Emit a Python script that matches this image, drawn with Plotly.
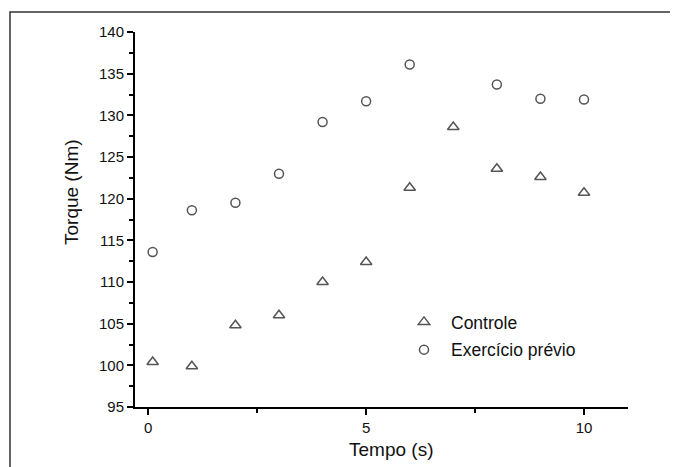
import plotly.graph_objects as go

time_ctrl = [0.1, 1, 2, 3, 4, 5, 6, 7, 8, 9, 10]
torque_ctrl = [100.4, 99.9, 104.8, 106.0, 110.0, 112.4, 121.3, 128.6, 123.6, 122.6, 120.7]
time_ex = [0.1, 1, 2, 3, 4, 5, 6, 8, 9, 10]
torque_ex = [113.6, 118.6, 119.5, 123.0, 129.2, 131.7, 136.1, 133.7, 132.0, 131.9]
x_ticks = [0, 5, 10]
y_ticks = [95, 100, 105, 110, 115, 120, 125, 130, 135, 140]

W, H = 678, 467
OFF = 8  # page body margin
# target page pixel positions of plot area
L, R, T, B = 135 - OFF, 50 + OFF, 32 - OFF, 60 + OFF
pw, ph = W - L - R, H - T - B

def px(xp):
    return (xp - OFF - L) / pw

def py(yp):
    return (H - B - (yp - OFF)) / ph

FONT = "Liberation Sans, Arial, sans-serif"
mcol = "#555555"

fig = go.Figure()
fig.add_trace(go.Scatter(x=time_ctrl, y=torque_ctrl, mode="markers", name="Controle",
                         legendgroup="c",
                         marker=dict(symbol="triangle-up-open", size=10, color=mcol,
                                     line=dict(width=1.5, color=mcol))))
fig.add_trace(go.Scatter(x=time_ex, y=torque_ex, mode="markers", name="Exercício prévio",
                         legendgroup="e",
                         marker=dict(symbol="circle-open", size=9, color=mcol,
                                     line=dict(width=1.5, color=mcol))))

fig.update_layout(
    width=W, height=H,
    margin=dict(l=L, r=R, t=T, b=B),
    paper_bgcolor="white", plot_bgcolor="white",
    font=dict(family=FONT, color="#111111"),
    showlegend=True,
    legend=dict(x=px(397), y=py(304), xanchor="left", yanchor="top",
                bgcolor="rgba(0,0,0,0)", font=dict(size=17.5, family=FONT),
                itemwidth=44, tracegroupgap=2),
    xaxis=dict(range=[-0.305, 11.01], showgrid=False, zeroline=False,
               showline=True, linecolor="black", linewidth=2,
               tickmode="array", tickvals=x_ticks, ticktext=[str(v) for v in x_ticks],
               ticks="outside", ticklen=6, tickwidth=1.5, tickcolor="black",
               tickfont=dict(size=15),
               minor=dict(tickvals=[2.5, 7.5], ticks="outside", ticklen=4, tickwidth=1.5, tickcolor="black")),
    yaxis=dict(range=[95, 140], showgrid=False, zeroline=False,
               showline=True, linecolor="black", linewidth=2,
               tickmode="array", tickvals=y_ticks, ticktext=[str(v) for v in y_ticks],
               ticks="outside", ticklen=6, tickwidth=1.5, tickcolor="black",
               tickfont=dict(size=15),
               minor=dict(dtick=2.5, ticks="outside", ticklen=4, tickwidth=1.5, tickcolor="black")),
    annotations=[
        dict(text="Tempo (s)", xref="paper", yref="paper", x=px(391), y=py(449),
             xanchor="center", yanchor="middle", showarrow=False, font=dict(size=19)),
        dict(text="Torque (Nm)", xref="paper", yref="paper", x=px(71), y=py(192),
             xanchor="center", yanchor="middle", showarrow=False, textangle=-90, font=dict(size=19)),
    ],
    shapes=[
        dict(type="path", xref="paper", yref="paper",
             path=f"M {px(10)} {py(475)} L {px(10)} {py(12)} L {px(690)} {py(12)}",
             line=dict(color="#333333", width=1.5)),
    ],
)

fig.write_html("out.html")
